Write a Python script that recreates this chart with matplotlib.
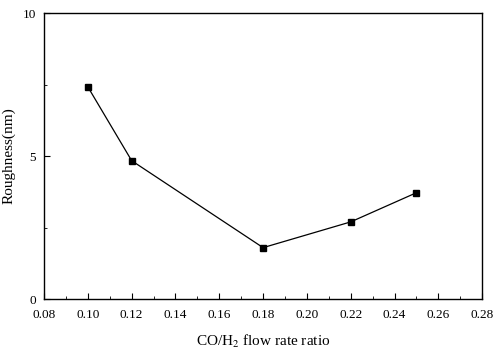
import numpy as np
import matplotlib
matplotlib.use('Agg')
import matplotlib.pyplot as plt
from matplotlib.ticker import MultipleLocator, FormatStrFormatter

plt.rcParams['font.family'] = ['Liberation Serif', 'DejaVu Serif']
plt.rcParams['mathtext.fontset'] = 'stix'

ratio = [0.10, 0.12, 0.18, 0.22, 0.25]
roughness = [7.42, 4.84, 1.8, 2.7, 3.72]
x_ticks = [0.08, 0.10, 0.12, 0.14, 0.16, 0.18, 0.20, 0.22, 0.24, 0.26, 0.28]
y_ticks = [0, 5, 10]

fig = plt.figure(figsize=(4.95, 3.54), dpi=100)
ax = fig.add_axes([0.089, 0.155, 0.885, 0.808])

ax.plot(ratio, roughness, color='black', linewidth=0.9, marker='s', markersize=5)

ax.set_xlim(0.08, 0.28)
ax.set_ylim(0, 10)
ax.set_xticks(x_ticks)
ax.xaxis.set_major_formatter(FormatStrFormatter('%.2f'))
ax.xaxis.set_minor_locator(MultipleLocator(0.01))
ax.set_yticks(y_ticks)
ax.yaxis.set_major_formatter(FormatStrFormatter('%d'))
ax.yaxis.set_minor_locator(MultipleLocator(2.5))
ax.tick_params(which='both', direction='in', labelsize=9.5)
ax.tick_params(which='major', length=4)
ax.tick_params(which='minor', length=2)
ax.tick_params(axis='x', pad=7)
ax.tick_params(axis='y', pad=6)
for s in ax.spines.values():
    s.set_linewidth(1.0)

ax.set_xlabel('CO/H$_2$ flow rate ratio', fontsize=11, labelpad=9)
ax.set_ylabel('Roughness(nm)', fontsize=11, labelpad=5)

fig.savefig('out.png', dpi=100)
